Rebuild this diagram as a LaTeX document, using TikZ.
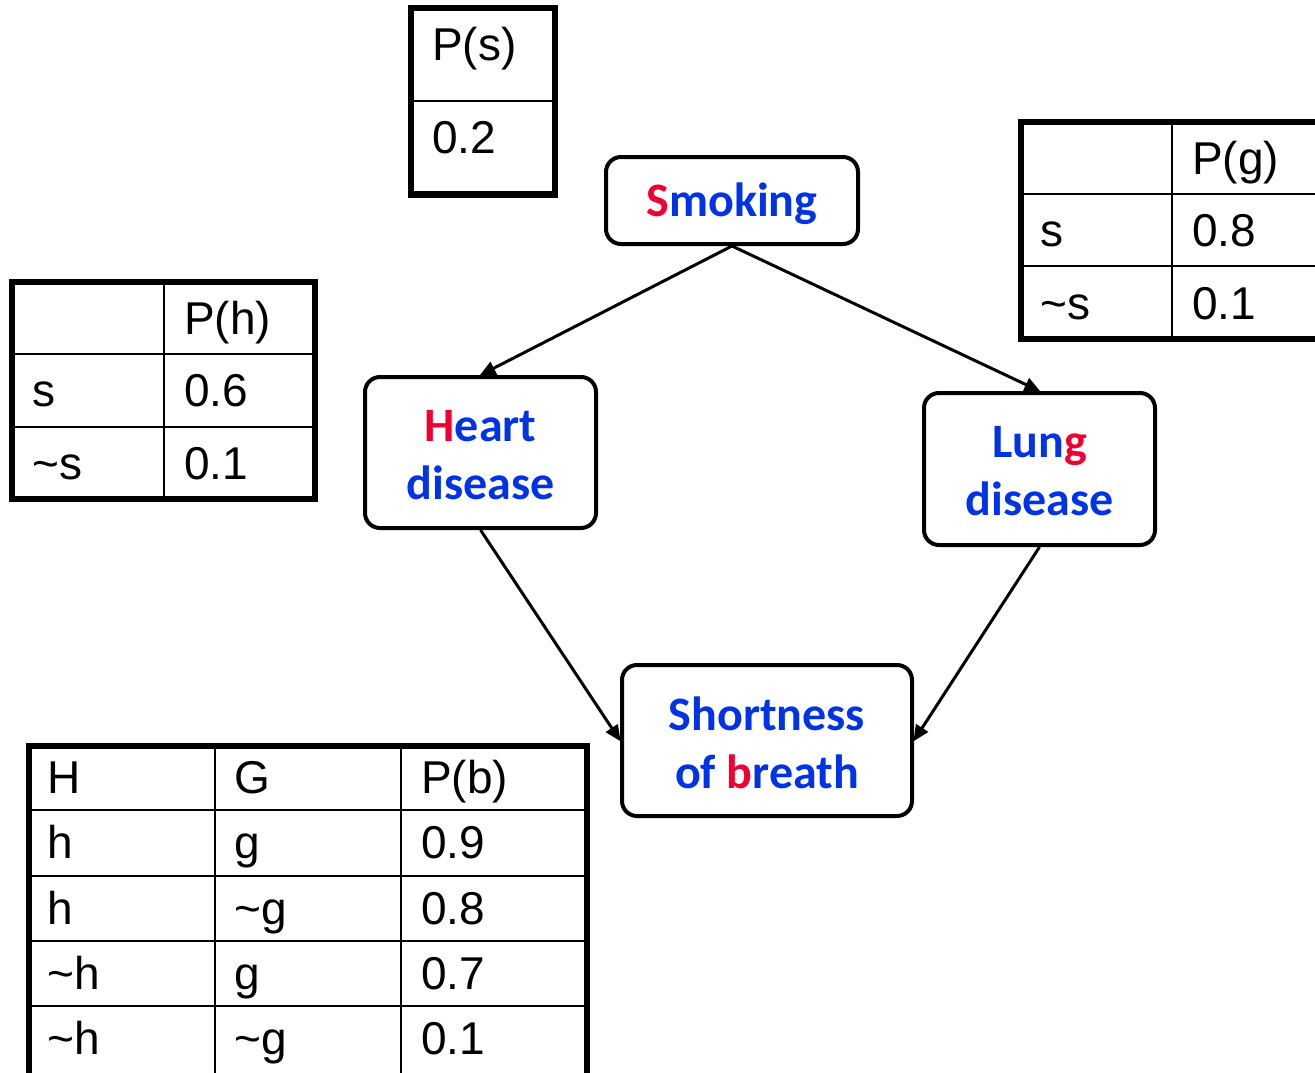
\documentclass[tikz,border=0pt]{standalone}
\usepackage{fontspec}
\setmainfont{Liberation Sans}
\newfontfamily\nodefont{Carlito}
\usetikzlibrary{arrows.meta}
\definecolor{nblue}{RGB}{0,51,230}
\definecolor{nred}{RGB}{240,0,50}
\tikzset{
  bbox/.style={draw, line width=4pt, rounded corners=15pt, fill=white, inner sep=0pt},
  btext/.style={align=center, font=\nodefont\bfseries\fontsize{48}{58}\selectfont,
    text=nblue, inner sep=0pt},
  outerline/.style={line width=6.5pt},
  innerline/.style={line width=2.5pt},
  tc/.style={anchor=base west, inner sep=0pt, font=\fontsize{46}{55}\selectfont},
  conn/.style={line width=3pt, -{Triangle[length=16pt,width=14pt]}, shorten >=-1pt}
}
\begin{document}
\begin{tikzpicture}[x=1pt,y=-1pt]
\useasboundingbox (0,0) rectangle (1315,1073);
\clip (0,0) rectangle (1315,1073);
% ---- P(s) table
\draw[innerline] (411,101) -- (555,101);
\draw[outerline] (411,8) rectangle (555,194.5);
\node[tc] (ps1) at (432,60) {P(s)};
\node[tc] (ps2) at (432,153) {0.2};
% ---- P(h) table
\draw[innerline] (164,282) -- (164,499) (12,354) -- (315,354) (12,427) -- (315,427);
\draw[outerline] (12,282) rectangle (315,499);
\node[tc] (ph1) at (184,334) {P(h)};
\node[tc] (ph2) at (32,406) {s};
\node[tc] (ph3) at (184,406) {0.6};
\node[tc] (ph4) at (32,479) {\textasciitilde s};
\node[tc] (ph5) at (184,479) {0.1};
% ---- P(g) table
\draw[innerline] (1172,122) -- (1172,339) (1021,194) -- (1330,194) (1021,266) -- (1330,266);
\draw[outerline] (1021,122) rectangle (1330,339);
\node[tc] (pg1) at (1192,174) {P(g)};
\node[tc] (pg2) at (1040,246) {s};
\node[tc] (pg3) at (1192,246) {0.8};
\node[tc] (pg4) at (1040,319) {\textasciitilde s};
\node[tc] (pg5) at (1192,319) {0.1};
% ---- P(b) table
\draw[innerline] (215,746) -- (215,1090) (401,746) -- (401,1090)
  (29,810) -- (587,810) (29,876) -- (587,876) (29,941) -- (587,941) (29,1006) -- (587,1006);
\draw[outerline] (29,1090) -- (29,746) -- (587,746) -- (587,1090);
\node[tc] (pb1) at (47,793) {H};
\node[tc] (pb2) at (234,793) {G};
\node[tc] (pb3) at (421,793) {P(b)};
\node[tc] (pb4) at (47,858) {h};
\node[tc] (pb5) at (234,858) {g};
\node[tc] (pb6) at (421,858) {0.9};
\node[tc] (pb7) at (47,924) {h};
\node[tc] (pb8) at (234,924) {\textasciitilde g};
\node[tc] (pb9) at (421,924) {0.8};
\node[tc] (pb10) at (47,989) {\textasciitilde h};
\node[tc] (pb11) at (234,989) {g};
\node[tc] (pb12) at (421,989) {0.7};
\node[tc] (pb13) at (47,1054) {\textasciitilde h};
\node[tc] (pb14) at (234,1054) {\textasciitilde g};
\node[tc] (pb15) at (421,1054) {0.1};
% ---- nodes
\node[bbox, minimum width=252pt, minimum height=87pt] (smoking) at (732,200.5) {};
\node[btext] (smokingtext) at ([yshift=-3pt]smoking.center) {\textcolor{nred}{S}moking};
\node[bbox, minimum width=231pt, minimum height=151pt] (heart) at (480.5,452.5) {};
\node[btext] (hearttext) at ([yshift=-3pt]heart.center) {\textcolor{nred}{H}eart\\disease};
\node[bbox, minimum width=231pt, minimum height=152pt] (lung) at (1039.5,469) {};
\node[btext] (lungtext) at ([yshift=-2pt]lung.center) {Lun\textcolor{nred}{g}\\disease};
\node[bbox, minimum width=290pt, minimum height=151pt] (breath) at (767,740.5) {};
\node[btext] (breathtext) at ([yshift=-2pt]breath.center) {Shortness\\of \textcolor{nred}{b}reath};
% ---- connectors
\draw[conn] (smoking.south) -- (heart.north);
\draw[conn] (smoking.south) -- (lung.north);
\draw[conn] (heart.south) -- (breath.west);
\draw[conn] (lung.south) -- (breath.east);
\end{tikzpicture}
\end{document}
